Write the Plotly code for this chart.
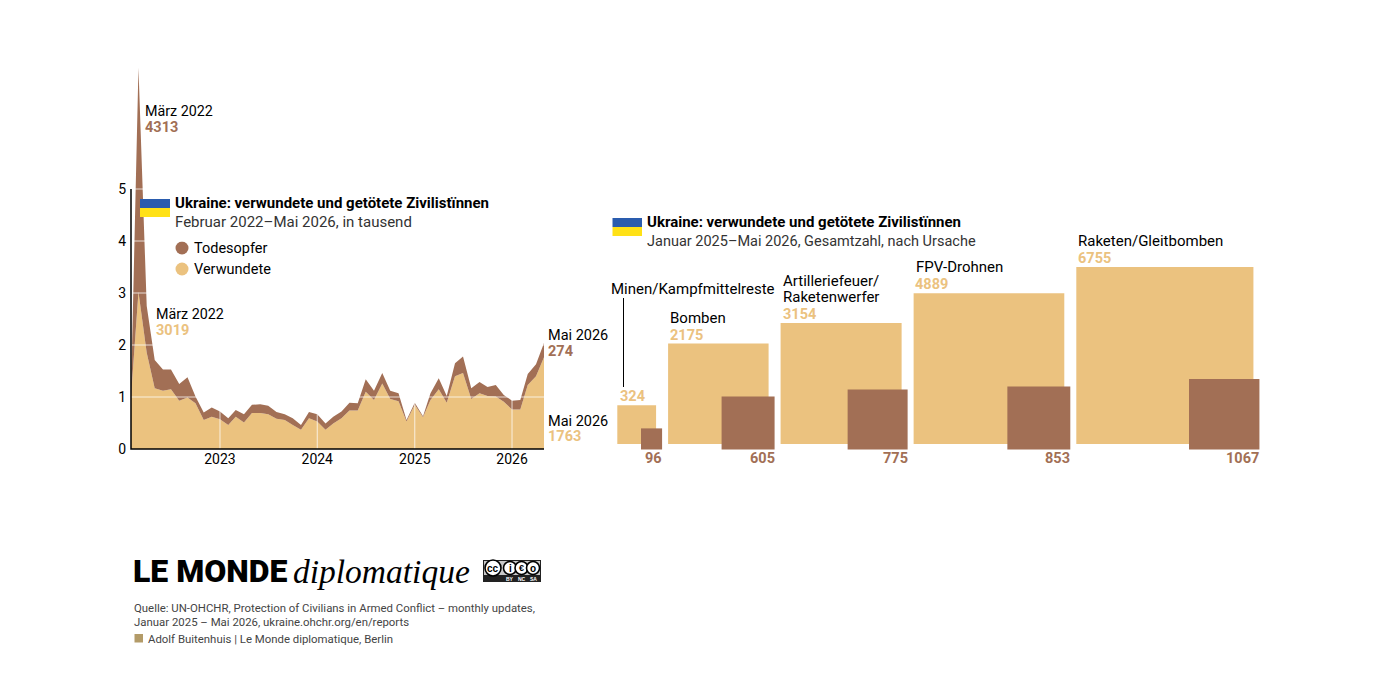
import pandas as pd
import plotly.graph_objects as go

W = 1377
H = 698

# monthly, Feb 2022 - May 2026, in thousand
months = pd.date_range("2022-02-01", "2026-05-01", freq="MS")
wounded = [1.00, 3.019, 1.85, 1.17, 1.12, 1.15, 0.93, 0.99, 0.88, 0.56, 0.62, 0.57, 0.46,
           0.62, 0.51, 0.69, 0.69, 0.67, 0.58, 0.56, 0.46, 0.37, 0.59, 0.53, 0.37, 0.49,
           0.59, 0.74, 0.74, 1.10, 0.94, 1.26, 0.96, 0.92, 0.53, 0.85, 0.61, 0.94, 1.15,
           0.89, 1.40, 1.46, 0.96, 1.07, 1.02, 1.01, 0.91, 0.76, 0.76, 1.23, 1.40, 1.763]
deaths = [0.10, 4.313, 0.90, 0.54, 0.41, 0.38, 0.32, 0.39, 0.13, 0.14, 0.18, 0.15, 0.13,
          0.13, 0.16, 0.16, 0.17, 0.16, 0.13, 0.11, 0.13, 0.09, 0.12, 0.14, 0.12, 0.13,
          0.13, 0.15, 0.14, 0.24, 0.18, 0.20, 0.16, 0.15, 0.03, 0.04, 0.02, 0.13, 0.21,
          0.13, 0.25, 0.32, 0.21, 0.22, 0.17, 0.22, 0.13, 0.17, 0.18, 0.21, 0.23, 0.274]

y_ticks = [0, 1, 2, 3, 4, 5]
x_ticks = ["2023-01-01", "2024-01-01", "2025-01-01", "2026-01-01"]
x_labels = ["2023", "2024", "2025", "2026"]

# Jan 2025 - May 2026, totals by cause
causes = ["Minen/Kampfmittelreste", "Bomben", "Artilleriefeuer/<br>Raketenwerfer", "FPV-Drohnen", "Raketen/Gleitbomben"]
cause_wounded = [324, 2175, 3154, 4889, 6755]
cause_deaths = [96, 605, 775, 853, 1067]

BROWN = "#a26f55"
TAN = "#ebc27f"
BLUE = "#2a5cae"
YELLOW = "#ffe116"
FONT = "Roboto, sans-serif"
GRID = "rgba(255,255,255,0.75)"

# squares: area stands for the count, one overlay axis in page pixels
SCALE = 2.155
side_w = [SCALE * v ** 0.5 for v in cause_wounded]
side_d = [SCALE * v ** 0.5 for v in cause_deaths]
left = []
pos = 617.3
for s in side_w:
    left.append(pos)
    pos += s + 12
right = [l + s for l, s in zip(left, side_w)]

fig = go.Figure()

fig.add_trace(go.Scatter(x=months, y=wounded, stackgroup="one", mode="lines", line=dict(width=0),
                         fillcolor=TAN, name="Verwundete", xaxis="x", yaxis="y"))
fig.add_trace(go.Scatter(x=months, y=deaths, stackgroup="one", mode="lines", line=dict(width=0),
                         fillcolor=BROWN, name="Todesopfer", xaxis="x", yaxis="y"))

fig.add_trace(go.Bar(x=[l + s / 2 for l, s in zip(left, side_w)], y=side_w, width=side_w,
                     base=[444 - s for s in side_w], marker=dict(color=TAN, line=dict(width=0)),
                     xaxis="x2", yaxis="y2"))
fig.add_trace(go.Bar(x=[r + 6 - s / 2 for r, s in zip(right, side_d)], y=side_d, width=side_d,
                     base=[449.5 - s for s in side_d], marker=dict(color=BROWN, line=dict(width=0)),
                     xaxis="x2", yaxis="y2"))

# legend dots
fig.add_trace(go.Scatter(x=[182, 182], y=[248, 269], mode="markers",
                         marker=dict(size=13, color=[BROWN, TAN]), xaxis="x2", yaxis="y2"))

shapes = []
# white grid over the areas
for t in y_ticks[1:]:
    shapes.append(dict(type="line", xref="x", yref="y", x0=months[0], x1=months[-1], y0=t, y1=t,
                       line=dict(color=GRID, width=1), layer="above"))
for t in x_ticks:
    shapes.append(dict(type="line", xref="x", yref="y", x0=t, x1=t, y0=0, y1=y_ticks[-1],
                       line=dict(color=GRID, width=1), layer="above"))
# axis frame, on the page axis so that it is not cut at the plot edge
shapes.append(dict(type="path", xref="x2", yref="y2", path="M 131 189 L 131 449 L 544 449",
                   line=dict(color="black", width=1.5), layer="above"))


def px_rect(x0, y0, x1, y1, color):
    shapes.append(dict(type="rect", xref="x2", yref="y2", x0=x0, x1=x1, y0=y0, y1=y1,
                       fillcolor=color, line=dict(width=0), layer="above"))


# flags
px_rect(140, 199, 170, 208, BLUE)
px_rect(140, 208, 170, 217, YELLOW)
px_rect(612.5, 218, 642, 227, BLUE)
px_rect(612.5, 227, 642, 236, YELLOW)
# credit square
px_rect(134.5, 634, 143, 642.5, "#b39b68")
# cc badge
px_rect(483, 560, 541, 582, "#222222")
px_rect(484, 561, 540, 575, "#c9c9c9")
for cx, r in [(493, 8), (510, 6.5), (521.5, 6.5), (533, 6.5)]:
    shapes.append(dict(type="circle", xref="x2", yref="y2", x0=cx - r, x1=cx + r, y0=568 - r, y1=568 + r,
                       fillcolor="white", line=dict(color="black", width=1.6), layer="above"))
# leader line
shapes.append(dict(type="line", xref="x2", yref="y2", x0=623.5, x1=623.5, y0=298, y1=387,
                   line=dict(color="black", width=1), layer="above"))

annotations = []


def label(x, y, text, size=15, color="black", bold=False, anchor="left", family=FONT, **kw):
    font = dict(family=family, size=size, color=color, weight=700 if bold else 400)
    font.update(kw)
    annotations.append(dict(xref="x2", yref="y2", x=x, y=y, text=text, showarrow=False, xanchor=anchor,
                            yanchor="middle", align="left", font=font, borderpad=0, borderwidth=0))


label(145, 111, "März 2022", size=14.3)
label(145, 127, f"{round(deaths[1] * 1000)}", size=14.5, color=BROWN, bold=True)
label(156, 314, "März 2022", size=14.3)
label(156, 330, f"{round(wounded[1] * 1000)}", size=14.5, color=TAN, bold=True)
label(548, 335, "Mai 2026", size=14.5)
label(548, 351, f"{round(deaths[-1] * 1000)}", size=14.5, color=BROWN, bold=True)
label(548, 421, "Mai 2026", size=14.5)
label(548, 436, f"{round(wounded[-1] * 1000)}", size=14.5, color=TAN, bold=True)

label(175, 202.5, "Ukraine: verwundete und getötete Zivilistïnnen", bold=True)
label(175, 222, "Februar 2022–Mai 2026, in tausend", color="#333333")
label(193.5, 248, "Todesopfer", size=14.5)
label(193.5, 269, "Verwundete", size=14.5)

label(647, 222, "Ukraine: verwundete und getötete Zivilistïnnen", bold=True)
label(647, 241, "Januar 2025–Mai 2026, Gesamtzahl, nach Ursache", size=14.5, color="#333333")

# cause names and numbers above the squares
name_pos = [(610.5, 289), (670, 318), (783, 281), (916, 267), (1078, 241)]
num_pos = [(619.5, 396), (670, 335), (783, 314), (915, 284), (1078, 258)]
for name, xy in zip(causes, name_pos):
    for k, line in enumerate(name.split("<br>")):
        label(xy[0], xy[1] + 16 * k, line)
for v, xy in zip(cause_wounded, num_pos):
    label(xy[0], xy[1], str(v), size=14.5, color=TAN, bold=True)
for v, r in zip(cause_deaths, right):
    label(r + 6, 458, str(v), size=14.5, color=BROWN, bold=True, anchor="right")

# logo
label(133, 571, "LE MONDE", size=32, family="Roboto, sans-serif", weight=900)
label(293, 571, "diplomatique", size=33.5, family="Liberation Serif, serif", style="italic")
# source
label(134, 607.5, "Quelle: UN-OHCHR, Protection of Civilians in Armed Conflict – monthly updates,", size=11.4, color="#444444")
label(134, 622, "Januar 2025 – Mai 2026, ukraine.ohchr.org/en/reports", size=11.4, color="#444444")
label(147.5, 638.5, "Adolf Buitenhuis | Le Monde diplomatique, Berlin", size=11.4, color="#444444")

# cc badge text
label(493, 568, "cc", size=10, bold=True, anchor="center", family="Liberation Sans, sans-serif")
label(510, 568, "i", size=10, bold=True, anchor="center", family="Liberation Sans, sans-serif")
label(521.5, 568, "€", size=9, bold=True, anchor="center", family="Liberation Sans, sans-serif")
label(533, 568, "o", size=10, bold=True, anchor="center", family="Liberation Sans, sans-serif")
label(510, 578.5, "BY", size=5, color="white", bold=True, anchor="center", family="Liberation Sans, sans-serif")
label(521.5, 578.5, "NC", size=5, color="white", bold=True, anchor="center", family="Liberation Sans, sans-serif")
label(533, 578.5, "SA", size=5, color="white", bold=True, anchor="center", family="Liberation Sans, sans-serif")

fig.update_layout(
    width=W,
    height=H,
    margin=dict(l=0, r=0, t=0, b=0),
    paper_bgcolor="white",
    plot_bgcolor="rgba(0,0,0,0)",
    showlegend=False,
    barmode="overlay",
    font=dict(family=FONT, size=14, color="black"),
    shapes=shapes,
    annotations=annotations,
    xaxis=dict(domain=[131 / W, 544 / W], type="date", range=[months[0], months[-1]], showgrid=False,
               zeroline=False, showline=False, ticks="", tickmode="array", tickvals=x_ticks, ticktext=x_labels,
               tickfont=dict(size=14), automargin=False),
    yaxis=dict(domain=[1 - 449 / H, 1 - 64.2 / H], range=[0, 7.4], showgrid=False, zeroline=False,
               showline=False, ticks="outside", ticklen=1, tickcolor="rgba(0,0,0,0)", tickmode="array",
               tickvals=y_ticks, tickfont=dict(size=14), automargin=False),
    xaxis2=dict(domain=[0, 1], range=[0, W], visible=False, anchor="y2", automargin=False),
    yaxis2=dict(domain=[0, 1], range=[H, 0], visible=False, anchor="x2", automargin=False),
)

fig.write_html("out.html", config={"displayModeBar": False, "responsive": False},
               post_script="document.body.style.margin='0';")
